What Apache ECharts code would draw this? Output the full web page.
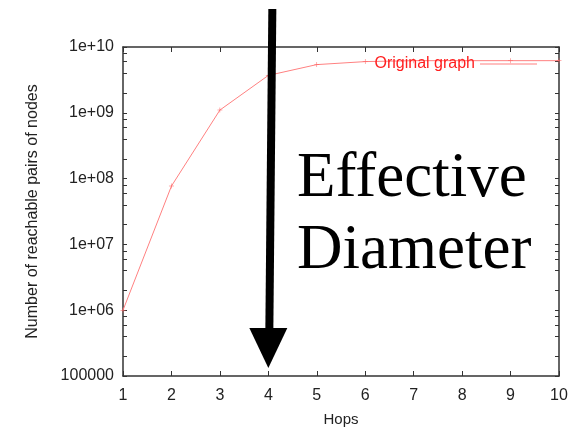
<!DOCTYPE html>
<html><head><meta charset="utf-8">
<script src="https://cdn.jsdelivr.net/npm/echarts@6/dist/echarts.min.js"></script>
<style>html,body{margin:0;padding:0;background:#fff}#c{width:578px;height:429px}</style>
</head><body><div id="c"></div>
<script>
const hops = [1, 2, 3, 4, 5, 6, 7, 8, 9, 10];
const reachablePairs = [1e6, 7.7e7, 1.1e9, 3.7e9, 5.4e9, 6.0e9, 6.2e9, 6.2e9, 6.2e9, 6.2e9];
const yTickLabels = {5: '100000', 6: '1e+06', 7: '1e+07', 8: '1e+08', 9: '1e+09', 10: '1e+10'};
const decades = [1e5, 1e6, 1e7, 1e8, 1e9, 1e10];
const minorMultipliers = [2, 4, 6, 8];
const seriesName = 'Original graph';
const annotationLines = ['Effective', 'Diameter'];
const effectiveDiameterHop = 4;

const tickValues = [];
decades.forEach((d, i) => {
  tickValues.push(d);
  if (i < decades.length - 1) minorMultipliers.forEach(m => tickValues.push(d * m));
});

const chart = echarts.init(document.getElementById('c'), null, {renderer: 'canvas'});
const axisCol = '#333';
const lblFont = {fontFamily: 'Liberation Sans', fontSize: 16, color: '#222'};
const baseX = {
  type: 'value', min: 1, max: 10, interval: 1,
  axisLine: {show: true, onZero: false, lineStyle: {color: axisCol, width: 1.5}},
  axisTick: {show: true, inside: true, length: 5, lineStyle: {color: axisCol}},
  splitLine: {show: false}
};
const baseY = {
  type: 'log', logBase: 10, min: 1e5, max: 1e10,
  axisLine: {show: true, lineStyle: {color: axisCol, width: 1.5}},
  axisTick: {show: true, inside: true, length: 4, customValues: tickValues, lineStyle: {color: axisCol}},
  splitLine: {show: false}
};
chart.setOption({
  animation: false,
  grid: {left: 123, right: 19, top: 47, bottom: 53, outerBoundsMode: 'none', containLabel: false},
  legend: {
    data: [seriesName], right: 36, top: 51, align: 'right',
    icon: 'rect', itemWidth: 57, itemHeight: 1, itemGap: 0,
    textStyle: {fontFamily: 'Liberation Sans', fontSize: 16, color: '#ff2020'},
    itemStyle: {color: '#ff8080'}
  },
  xAxis: [
    Object.assign({}, baseX, {
      position: 'bottom', name: 'Hops', nameLocation: 'middle', nameGap: 36,
      nameTextStyle: {fontFamily: 'Liberation Sans', fontSize: 15, color: '#222'},
      axisLabel: Object.assign({margin: 12}, lblFont)
    }),
    Object.assign({}, baseX, {position: 'top', axisLabel: {show: false}})
  ],
  yAxis: [
    Object.assign({}, baseY, {
      position: 'left', name: 'Number of reachable pairs of nodes', nameLocation: 'middle', nameGap: 82,
      nameTextStyle: {fontFamily: 'Liberation Sans', fontSize: 16, color: '#222'},
      axisLabel: Object.assign({margin: 9, formatter: v => yTickLabels[Math.round(Math.log10(v))] || ''}, lblFont)
    }),
    Object.assign({}, baseY, {position: 'right', axisLabel: {show: false}})
  ],
  series: [{
    name: seriesName, type: 'line',
    data: hops.map((h, i) => [h, reachablePairs[i]]),
    lineStyle: {color: '#ff8080', width: 1},
    itemStyle: {color: '#ff6060'},
    symbol: 'path://M0,4.5L10,4.5L10,5.5L0,5.5ZM4.5,0L5.5,0L5.5,10L4.5,10Z', symbolSize: 5,
    showSymbol: true
  }]
});

const tip = chart.convertToPixel({xAxisIndex: 0, yAxisIndex: 0}, [effectiveDiameterHop, 1e5]);
const tx = tip[0], ty = tip[1] - 8;
chart.setOption({
  graphic: [
    {type: 'polygon', shape: {points: [[tx + 0, 9], [tx + 8, 9], [tx + 5, ty - 38], [tx - 3, ty - 38]]}, style: {fill: '#000'}, z: 100},
    {type: 'polygon', shape: {points: [[tx - 19, ty - 40], [tx + 19, ty - 40], [tx, ty]]}, style: {fill: '#000'}, z: 100},
    {type: 'text', left: 297, top: 148, z: 100, style: {text: annotationLines[0], font: '63px "Liberation Serif"', fill: '#000'}},
    {type: 'text', left: 297, top: 220, z: 100, style: {text: annotationLines[1], font: '63px "Liberation Serif"', fill: '#000'}}
  ]
});
</script></body></html>
